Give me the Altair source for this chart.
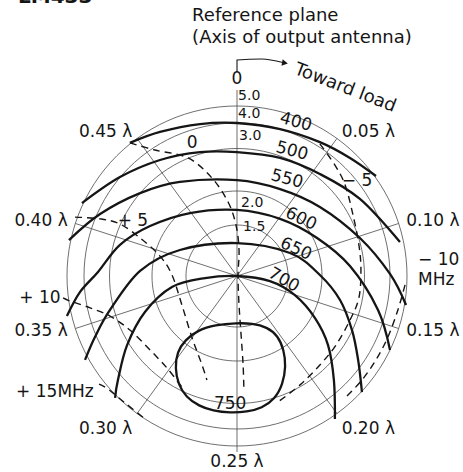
import math
import altair as alt
import pandas as pd

# ---------------- values ----------------
# VSWR circles
vswr_values = [1.5, 2.0, 3.0, 4.0, 5.0]
vswr_text = ["1.5", "2.0", "3.0", "4.0", "5.0"]

# distance toward load (wavelengths)
wl_ticks = [0.00, 0.05, 0.10, 0.15, 0.20, 0.25, 0.30, 0.35, 0.40, 0.45]
wl_text = ["0", "0.05 λ", "0.10 λ", "0.15 λ", "0.20 λ", "0.25 λ",
           "0.30 λ", "0.35 λ", "0.40 λ", "0.45 λ"]

# power contour levels (W)
power_levels = ["400", "500", "550", "600", "650", "700", "750"]

# power contours: points in the reflection-coefficient plane (u = right, v = up)
p400_u = [-0.420, -0.302, -0.145, 0.000, 0.169, 0.325, 0.443, 0.545]
p400_v = [0.522, 0.565, 0.596, 0.600, 0.576, 0.525, 0.463, 0.392]
p500_u = [-0.608, -0.459, -0.302, -0.145, 0.000, 0.169, 0.325, 0.482, 0.639]
p500_v = [0.286, 0.388, 0.455, 0.486, 0.486, 0.463, 0.400, 0.302, 0.133]
p550_u = [-0.659, -0.537, -0.380, -0.224, 0.000, 0.169, 0.325, 0.482, 0.600, 0.663]
p550_v = [0.141, 0.243, 0.325, 0.369, 0.376, 0.341, 0.271, 0.149, 0.008, -0.114]
p600_u = [-0.667, -0.616, -0.545, -0.459, -0.341, -0.184, 0.000, 0.169, 0.314, 0.443, 0.553, 0.600]
p600_v = [-0.157, -0.063, 0.016, 0.122, 0.196, 0.247, 0.259, 0.224, 0.149, 0.039, -0.133, -0.290]
p650_u = [-0.596, -0.557, -0.498, -0.380, -0.224, 0.000, 0.208, 0.325, 0.404, 0.451, 0.475, 0.490]
p650_v = [-0.329, -0.239, -0.133, 0.020, 0.102, 0.129, 0.090, 0.004, -0.094, -0.212, -0.329, -0.455]
p700_u = [-0.478, -0.467, -0.431, -0.361, -0.255, -0.125, 0.000, 0.129, 0.227, 0.306, 0.357, 0.380, 0.384]
p700_v = [-0.478, -0.408, -0.271, -0.141, -0.043, -0.008, 0.000, -0.020, -0.075, -0.165, -0.271, -0.408, -0.561]
p750_u = [0.000, 0.059, 0.118, 0.161, 0.184, 0.192, 0.180, 0.149, 0.098, 0.039,
          -0.027, -0.094, -0.149, -0.200, -0.231, -0.243, -0.235, -0.204, -0.153, -0.086]
p750_v = [-0.184, -0.186, -0.200, -0.235, -0.290, -0.353, -0.424, -0.482, -0.518, -0.533,
          -0.537, -0.529, -0.510, -0.475, -0.424, -0.361, -0.298, -0.251, -0.212, -0.192]

# frequency-pulling contours (MHz)
f0_u = [-0.420, -0.322, -0.192, -0.098, -0.035, -0.004, 0.008, 0.004, 0.008, 0.016, 0.024, 0.027]
f0_v = [0.522, 0.494, 0.463, 0.384, 0.290, 0.200, 0.102, 0.000, -0.114, -0.231, -0.349, -0.447]
fp5_u = [-0.635, -0.537, -0.459, -0.380, -0.302, -0.255, -0.216, -0.176, -0.137, -0.118]
fp5_v = [0.231, 0.224, 0.204, 0.149, 0.078, 0.004, -0.114, -0.243, -0.349, -0.408]
fp10_u = [-0.682, -0.655, -0.576, -0.498, -0.420, -0.341, -0.271, -0.208]
fp10_v = [-0.086, -0.098, -0.125, -0.157, -0.212, -0.290, -0.365, -0.447]
fp15_u = [-0.541, -0.506, -0.439, -0.365]
fp15_v = [-0.424, -0.443, -0.498, -0.557]
fm5_u = [0.325, 0.384, 0.424, 0.455, 0.478, 0.486, 0.478, 0.443, 0.388, 0.325, 0.247, 0.161]
fm5_v = [0.518, 0.435, 0.357, 0.239, 0.122, 0.024, -0.086, -0.173, -0.271, -0.349, -0.427, -0.494]
fm10_u = [0.659, 0.631, 0.592, 0.545, 0.490, 0.431]
fm10_v = [-0.035, -0.133, -0.239, -0.329, -0.408, -0.471]

power_curves = {"400": (p400_u, p400_v), "500": (p500_u, p500_v), "550": (p550_u, p550_v),
                "600": (p600_u, p600_v), "650": (p650_u, p650_v), "700": (p700_u, p700_v)}
freq_curves = {"0": (f0_u, f0_v), "+5": (fp5_u, fp5_v), "+10": (fp10_u, fp10_v),
               "+15": (fp15_u, fp15_v), "-5": (fm5_u, fm5_v), "-10": (fm10_u, fm10_v)}

# ---------------- layout (annotation placement) ----------------
PX = 255.0                      # pixels per unit of |Gamma|
CX, CY = 237.0, 276.0           # chart centre in the page
W, H = 463, 472
XD = [-CX / PX, (W - CX) / PX]
YD = [-(H - CY) / PX, CY / PX]
FONT = "DejaVu Sans"
INK = "#151515"

power_label_pos = {"400": (0.231, 0.604, 15), "500": (0.216, 0.490, 15), "550": (0.196, 0.380, 15),
                   "600": (0.251, 0.224, 25), "650": (0.231, 0.106, 25), "700": (0.184, -0.016, 30),
                   "750": (-0.027, -0.502, 0)}
freq_label_pos = [("0", -0.176, 0.522, "center"), ("+ 5", -0.408, 0.216, "center"),
                  ("+ 10", -0.773, -0.086, "center"), ("+ 15MHz", -0.714, -0.455, "center"),
                  ("− 5", 0.471, 0.373, "center"), ("− 10", 0.710, 0.063, "left"),
                  ("MHz", 0.710, -0.016, "left")]
vswr_label_pos = [(0.024, 0.192), (0.016, 0.286), (0.008, 0.549), (0.004, 0.636), (0.004, 0.704)]


def gamma(s):
    return (s - 1.0) / (s + 1.0)


R_OUT = gamma(max(vswr_values))

# grid circles
rows = []
for s in vswr_values:
    g = gamma(s)
    for k in range(0, 361, 3):
        a = math.radians(k)
        rows.append({"s": str(s), "i": k, "u": g * math.sin(a), "v": g * math.cos(a)})
circ_df = pd.DataFrame(rows)

# radial lines
rows = []
for t in wl_ticks:
    a = 4 * math.pi * t
    r_end = R_OUT
    if abs(t) < 1e-9:
        r_end = 186 / PX
    elif abs(t - 0.25) < 1e-9:
        r_end = 176 / PX
    rows.append({"t": str(t), "i": 0, "u": 0.0, "v": 0.0})
    rows.append({"t": str(t), "i": 1, "u": r_end * math.sin(a), "v": r_end * math.cos(a)})
rad_df = pd.DataFrame(rows)

# wavelength labels
rows = []
for t, txt in zip(wl_ticks, wl_text):
    a = 4 * math.pi * t
    s, c = math.sin(a), math.cos(a)
    if abs(s) < 0.1:
        r = (197 if c > 0 else 186) / PX
        al = "center"
        dv = 0.0
    else:
        r = 178 / PX
        al = "left" if s > 0 else "right"
        dv = -9 / PX if c < -0.5 else 0.0
    rows.append({"text": txt, "u": r * s, "v": r * c + dv, "al": al})
wl_df = pd.DataFrame(rows)


def curve_frame(curves):
    out = []
    for name, (us, vs) in curves.items():
        for i, (a, b) in enumerate(zip(us, vs)):
            out.append({"name": name, "i": i, "u": a, "v": b})
    return pd.DataFrame(out)


pow_df = curve_frame(power_curves)
loop_df = curve_frame({"750": (p750_u, p750_v)})
freq_df = curve_frame(freq_curves)

X = alt.X("u:Q", scale=alt.Scale(domain=XD, nice=False, zero=False), axis=None)
Y = alt.Y("v:Q", scale=alt.Scale(domain=YD, nice=False, zero=False), axis=None)

layers = []
layers.append(alt.Chart(circ_df).mark_line(stroke="#4a4a4a", strokeWidth=0.8)
              .encode(X, Y, order="i:Q", detail="s:N"))
layers.append(alt.Chart(rad_df).mark_line(stroke="#4a4a4a", strokeWidth=0.8)
              .encode(X, Y, order="i:Q", detail="t:N"))
layers.append(alt.Chart(freq_df).mark_line(stroke=INK, strokeWidth=1.4, strokeDash=[7, 5],
                                           interpolate="cardinal")
              .encode(X, Y, order="i:Q", detail="name:N"))
layers.append(alt.Chart(pow_df).mark_line(stroke=INK, strokeWidth=2.3, interpolate="cardinal")
              .encode(X, Y, order="i:Q", detail="name:N"))
layers.append(alt.Chart(loop_df).mark_line(stroke=INK, strokeWidth=2.3, interpolate="basis-closed")
              .encode(X, Y, order="i:Q", detail="name:N"))

# arrow "toward load"
arrow_df = pd.DataFrame({"i": [0, 1, 2, 3], "u": [0.0, 0.0, 0.098, 0.180],
                         "v": [0.800, 0.847, 0.851, 0.837]})
layers.append(alt.Chart(arrow_df).mark_line(stroke=INK, strokeWidth=1.1, interpolate="monotone")
              .encode(X, Y, order="i:Q"))
head_df = pd.DataFrame({"u": [0.188], "v": [0.835]})
layers.append(alt.Chart(head_df).mark_point(shape="triangle-right", filled=True, size=45,
                                            angle=10, color=INK, opacity=1).encode(X, Y))

# wavelength labels
for al in ["left", "right", "center"]:
    layers.append(alt.Chart(wl_df[wl_df["al"] == al]).mark_text(
        align=al, baseline="middle", font=FONT, fontSize=17, color=INK).encode(X, Y, text="text:N"))

# VSWR labels
vs_df = pd.DataFrame({"text": vswr_text, "u": [p[0] for p in vswr_label_pos],
                      "v": [p[1] for p in vswr_label_pos]})
layers.append(alt.Chart(vs_df).mark_text(align="left", baseline="middle", font=FONT,
                                         fontSize=14, color=INK).encode(X, Y, text="text:N"))

# power labels
pl_df = pd.DataFrame({"text": power_levels,
                      "u": [power_label_pos[k][0] for k in power_levels],
                      "v": [power_label_pos[k][1] for k in power_levels],
                      "ang": [power_label_pos[k][2] for k in power_levels]})
layers.append(alt.Chart(pl_df).mark_text(align="center", baseline="middle", font=FONT,
                                         fontSize=17, color=INK)
              .encode(X, Y, text="text:N", angle=alt.Angle("ang:Q", scale=None)))

# frequency labels
fl_df = pd.DataFrame({"text": [f[0] for f in freq_label_pos], "u": [f[1] for f in freq_label_pos],
                      "v": [f[2] for f in freq_label_pos], "al": [f[3] for f in freq_label_pos]})
for al in ["left", "center"]:
    layers.append(alt.Chart(fl_df[fl_df["al"] == al]).mark_text(
        align=al, baseline="middle", font=FONT, fontSize=17, color=INK).encode(X, Y, text="text:N"))

# headings
head_txt = pd.DataFrame({"text": ["Reference plane", "(Axis of output antenna)"],
                         "u": [-0.176, -0.176], "v": [1.020, 0.933]})
layers.append(alt.Chart(head_txt).mark_text(align="left", baseline="middle", font=FONT,
                                            fontSize=18, color=INK).encode(X, Y, text="text:N"))
tl_df = pd.DataFrame({"text": ["Toward load"], "u": [0.424], "v": [0.737]})
layers.append(alt.Chart(tl_df).mark_text(align="center", baseline="middle", font=FONT,
                                         fontSize=18, angle=21, color=INK).encode(X, Y, text="text:N"))

# cut-off heading at the very top edge of the page
cut_df = pd.DataFrame({"text": ["LM433"], "u": [-219 / PX], "v": [273 / PX]})
layers.append(alt.Chart(cut_df).mark_text(align="left", baseline="alphabetic", font=FONT,
                                          fontSize=20, fontWeight="bold", color=INK)
              .encode(X, Y, text="text:N"))

chart = alt.layer(*layers).properties(
    width=W, height=H, autosize=alt.AutoSizeParams(type="none"), padding=0,
    background="white"
).configure_view(strokeWidth=0)

chart.save("out.html", embed_options={"renderer": "svg", "actions": False})
